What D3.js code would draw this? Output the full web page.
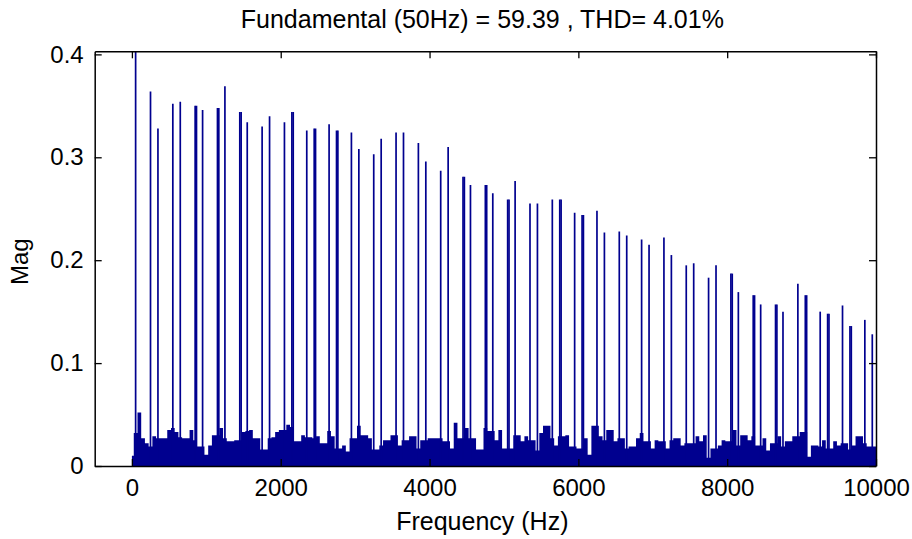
<!DOCTYPE html>
<html>
<head>
<meta charset="utf-8">
<script src="https://cdn.jsdelivr.net/npm/d3@7"></script>
<style>
  body { margin: 0; background: #fff; }
  text { font-family: "Liberation Sans", Arial, Helvetica, sans-serif; fill: #000; }
</style>
</head>
<body>
<div id="chart"></div>
<script>
// spectrum values
var fundamentalFreq = 50;
var fundamentalMag = 59.39;

// 6k +/- 1 harmonics (Hz) and their magnitudes
var harmonicFreq = [250, 350, 550, 650, 850, 950, 1150, 1250, 1450, 1550,
    1750, 1850, 2050, 2150, 2350, 2450, 2650, 2750, 2950, 3050,
    3250, 3350, 3550, 3650, 3850, 3950, 4150, 4250, 4450, 4550,
    4750, 4850, 5050, 5150, 5350, 5450, 5650, 5750, 5950, 6050,
    6250, 6350, 6550, 6650, 6850, 6950, 7150, 7250, 7450, 7550,
    7750, 7850, 8050, 8150, 8350, 8450, 8650, 8750, 8950, 9050,
    9250, 9350, 9550, 9650, 9850, 9950];
var harmonicMag = [0.364, 0.328, 0.352, 0.354, 0.350, 0.346, 0.348, 0.369, 0.344, 0.334,
    0.330, 0.340, 0.334, 0.344, 0.326, 0.328, 0.332, 0.326, 0.324, 0.308,
    0.303, 0.318, 0.324, 0.324, 0.314, 0.296, 0.287, 0.310, 0.281, 0.273,
    0.273, 0.265, 0.259, 0.277, 0.255, 0.255, 0.259, 0.259, 0.246, 0.244,
    0.248, 0.227, 0.228, 0.224, 0.220, 0.215, 0.222, 0.205, 0.195, 0.197,
    0.183, 0.195, 0.187, 0.169, 0.166, 0.157, 0.157, 0.150, 0.177, 0.166,
    0.150, 0.148, 0.156, 0.136, 0.142, 0.128];
// harmonics whose energy falls in two neighbouring bins (drawn as a second line)
var splitFreq = [850, 1150, 1450, 2150, 2450, 2750, 4450, 4750, 5050, 5750,
    6050, 8050, 8350, 8650, 9050, 9350, 9650];
var binWidth = 18;

// noise floor, one value every 50 Hz from 0 to 10000 Hz
var noiseStep = 50;
var noiseMag = [
  0.010, 0.032, 0.052, 0.027, 0.022, 0.019, 0.029, 0.027, 0.027, 0.027,
  0.035, 0.037, 0.033, 0.028, 0.027, 0.027, 0.035, 0.025, 0.019, 0.019,
  0.011, 0.020, 0.030, 0.030, 0.037, 0.027, 0.024, 0.024, 0.025, 0.025,
  0.033, 0.034, 0.035, 0.027, 0.027, 0.016, 0.016, 0.027, 0.028, 0.033,
  0.035, 0.035, 0.040, 0.038, 0.024, 0.024, 0.030, 0.028, 0.028, 0.027,
  0.029, 0.022, 0.022, 0.034, 0.029, 0.017, 0.017, 0.020, 0.014, 0.027,
  0.027, 0.039, 0.030, 0.030, 0.027, 0.016, 0.016, 0.020, 0.025, 0.025,
  0.030, 0.030, 0.020, 0.025, 0.025, 0.029, 0.029, 0.017, 0.025, 0.025,
  0.027, 0.027, 0.027, 0.027, 0.024, 0.024, 0.017, 0.042, 0.027, 0.027,
  0.037, 0.027, 0.027, 0.016, 0.016, 0.037, 0.034, 0.034, 0.025, 0.035,
  0.017, 0.017, 0.017, 0.030, 0.030, 0.024, 0.029, 0.025, 0.025, 0.015,
  0.032, 0.039, 0.039, 0.027, 0.020, 0.029, 0.029, 0.030, 0.019, 0.019,
  0.017, 0.017, 0.027, 0.011, 0.039, 0.039, 0.029, 0.025, 0.035, 0.035,
  0.024, 0.027, 0.027, 0.017, 0.019, 0.019, 0.027, 0.032, 0.024, 0.024,
  0.017, 0.025, 0.024, 0.024, 0.017, 0.025, 0.027, 0.027, 0.020, 0.022,
  0.022, 0.022, 0.029, 0.024, 0.030, 0.008, 0.017, 0.017, 0.020, 0.025,
  0.024, 0.024, 0.035, 0.020, 0.030, 0.030, 0.025, 0.029, 0.020, 0.020,
  0.027, 0.015, 0.022, 0.022, 0.029, 0.019, 0.024, 0.024, 0.029, 0.029,
  0.033, 0.033, 0.009, 0.020, 0.020, 0.019, 0.025, 0.017, 0.017, 0.024,
  0.020, 0.022, 0.022, 0.016, 0.020, 0.029, 0.029, 0.022, 0.019, 0.019,
  0.019];

// axis settings
var xDomain = [-500, 10000];
var yDomain = [0, 0.403];
var xTicks = [0, 2000, 4000, 6000, 8000, 10000];
var yTicks = [0, 0.1, 0.2, 0.3, 0.4];
var yTickLabels = ["0", "0.1", "0.2", "0.3", "0.4"];
var titleText = "Fundamental (50Hz) = 59.39 , THD= 4.01%";

var W = 912, H = 539;
var margen = {izquierda: 94.7, derecha: W - 876, arriba: 51.3, abajo: H - 466};
var bw = W - margen.izquierda - margen.derecha;
var bh = H - margen.arriba - margen.abajo;
var azul = "#00008f";

var svg = d3.select("#chart").append("svg")
    .attr("width", W).attr("height", H)
    .style("background", "#fff");

svg.append("defs").append("clipPath").attr("id", "ventana")
    .append("rect").attr("x", 0).attr("y", 0).attr("width", bw).attr("height", bh);

var g = svg.append("g")
    .attr("transform", "translate(" + margen.izquierda + "," + margen.arriba + ")");

var x = d3.scaleLinear().domain(xDomain).range([0, bw]);
var y = d3.scaleLinear().domain(yDomain).range([bh, 0]);

var body = g.append("g").attr("clip-path", "url(#ventana)");

// noise floor as a stepped filled area
var noise = noiseMag.map(function (m, i) { return {f: i * noiseStep, m: m}; });
noise.push({f: noise.length * noiseStep - noiseStep / 2, m: noiseMag[noiseMag.length - 1]});
var area = d3.area()
    .x(function (d) { return x(d.f - noiseStep / 2 < 0 ? d.f : d.f - noiseStep / 2); })
    .y0(y(0))
    .y1(function (d) { return y(d.m); })
    .curve(d3.curveStepAfter);
body.append("path").datum(noise).attr("d", area).attr("fill", azul);

// harmonic lines
var lines = harmonicFreq.map(function (f, i) { return {f: f, m: harmonicMag[i]}; });
splitFreq.forEach(function (f) {
    lines.push({f: f + binWidth, m: harmonicMag[harmonicFreq.indexOf(f)]});
});
lines.push({f: fundamentalFreq, m: fundamentalMag});

body.selectAll("line.h").data(lines).enter().append("line")
    .attr("class", "h")
    .attr("x1", function (d) { return x(d.f); })
    .attr("x2", function (d) { return x(d.f); })
    .attr("y1", y(0))
    .attr("y2", function (d) { return y(Math.min(d.m, yDomain[1] * 2)); })
    .attr("stroke", azul)
    .attr("stroke-width", 1.7);

// axes, ticks pointing inside (box on)
var fmtY = function (d) { return yTickLabels[yTicks.indexOf(d)]; };
var ejeX = g.append("g").attr("transform", "translate(0," + bh + ")")
    .call(d3.axisBottom(x).tickValues(xTicks).tickSizeInner(-7).tickSizeOuter(0).tickPadding(13).tickFormat(d3.format("d")));
var ejeY = g.append("g")
    .call(d3.axisLeft(y).tickValues(yTicks).tickSizeInner(-7).tickSizeOuter(0).tickPadding(11).tickFormat(fmtY));
var ejeTop = g.append("g")
    .call(d3.axisTop(x).tickValues(xTicks).tickSizeInner(-7).tickSizeOuter(0).tickFormat(""));
var ejeDer = g.append("g").attr("transform", "translate(" + bw + ",0)")
    .call(d3.axisRight(y).tickValues(yTicks).tickSizeInner(-7).tickSizeOuter(0).tickFormat(""));

[ejeX, ejeY, ejeTop, ejeDer].forEach(function (e) {
    e.selectAll("path.domain").attr("stroke", "#000").attr("stroke-width", 1.5);
    e.selectAll(".tick line").attr("stroke", "#000").attr("stroke-width", 1.3);
    e.selectAll(".tick text").style("font-size", "24px").attr("fill", "#000")
        .style("font-family", "'Liberation Sans', Arial, sans-serif");
});

// title and labels
svg.append("text").attr("x", margen.izquierda + bw / 2 - 3).attr("y", 28)
    .attr("text-anchor", "middle").style("font-size", "25px").text(titleText);
svg.append("text").attr("x", margen.izquierda + bw / 2 - 3).attr("y", 530)
    .attr("text-anchor", "middle").style("font-size", "25px").text("Frequency (Hz)");
svg.append("text").attr("transform", "translate(28," + (margen.arriba + bh / 2 + 3) + ") rotate(-90)")
    .attr("text-anchor", "middle").style("font-size", "24px").text("Mag");
</script>
</body>
</html>
